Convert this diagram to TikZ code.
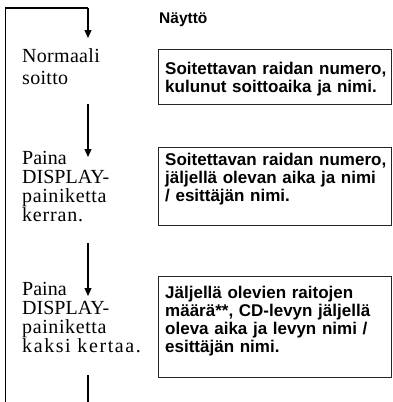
\documentclass[tikz,border=0pt]{standalone}
\usepackage{fontspec}
\setmainfont{Liberation Serif}
\setsansfont{Liberation Sans}
\usetikzlibrary{arrows.meta}
\newcommand\trk[2]{{\addfontfeature{LetterSpace=#1}#2}}
\begin{document}
\begin{tikzpicture}[x=1pt,y=-1pt,
  flow/.style={line width=1.2pt},
  arr/.style={flow,-{Triangle[length=8pt,width=7pt]}},
  lefttext/.style={anchor=base west, inner sep=0pt, align=left, text width=140pt,
    font=\fontsize{20}{19.3}\selectfont},
  dispbox/.style={draw=black!85, line width=1.2pt, anchor=north west, inner sep=0pt,
    minimum width=233pt},
  boxtext/.style={anchor=base west, inner sep=0pt, align=left, text width=225pt,
    font=\sffamily\bfseries\fontsize{17}{18.2}\selectfont},
  heading/.style={anchor=base west, inner sep=0pt, font=\sffamily\bfseries\fontsize{15.5}{18}\selectfont}
]
\useasboundingbox (0,0) rectangle (392,402);

% connector end points
\coordinate (lb) at (5.3,402);
\coordinate (lt) at (5.3,8);
\coordinate (rt) at (88,8);
\coordinate (a1) at (88,38);
\coordinate (s2) at (88,104);
\coordinate (a2) at (88,157);
\coordinate (s3) at (88,243);
\coordinate (a3) at (88,296);
\coordinate (s4) at (88,375);
\coordinate (e4) at (88,402);

\draw[flow] (lb) -- (lt) -- (rt);
\draw[arr] (rt) -- (a1);
\draw[arr] (s2) -- (a2);
\draw[arr] (s3) -- (a3);
\draw[flow] (s4) -- (e4);

% left texts
\node[lefttext] (n1) at (22,62) {\trk{1.5}{Normaali}\\[3.5pt]\trk{1.5}{soitto}};
\node[lefttext] (n2) at (22,164) {Paina\\DISPLAY-\\\trk{3}{painiketta}\\\trk{4}{kerran.}};
\node[lefttext] (n3) at (22,295) {Paina\\DISPLAY-\\\trk{3}{painiketta}\\\trk{8}{kaksi kertaa.}};

% heading
\node[heading] (h) at (159,23) {Näyttö};

% boxes
\node[dispbox, minimum height=55.5pt] (b1) at (158,48.5) {};
\node[dispbox, minimum height=78.5pt] (b2) at (158,146.5) {};
\node[dispbox, minimum height=101pt] (b3) at (158,275.5) {};

\node[boxtext] (t1) at (165,74) {Soitettavan raidan numero,\\kulunut soittoaika ja nimi.};
\node[boxtext] (t2) at (165,165) {Soitettavan raidan numero,\\jäljellä olevan aika ja nimi\\/ esittäjän nimi.};
\node[boxtext] (t3) at (165,298) {Jäljellä olevien raitojen\\määrä**, CD-levyn jäljellä\\oleva aika ja levyn nimi /\\esittäjän nimi.};
\end{tikzpicture}
\end{document}
